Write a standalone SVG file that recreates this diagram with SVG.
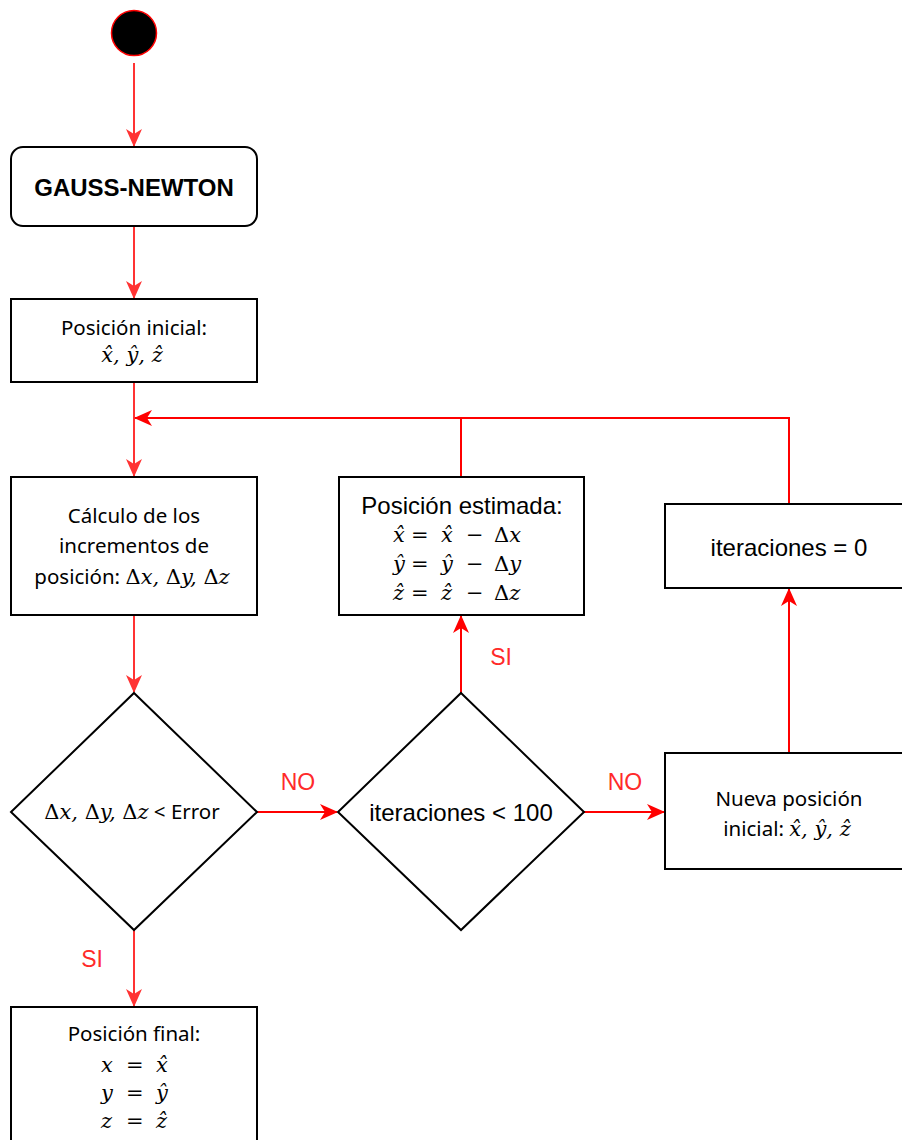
<svg xmlns="http://www.w3.org/2000/svg" width="902" height="1140" viewBox="0 0 902 1140">
<style>
.box{fill:#fff;stroke:#000;stroke-width:2}
.t{font-family:"Noto Sans","Open Sans",sans-serif;font-size:20.5px;fill:#000;text-anchor:middle}
.h{font-family:"Liberation Sans",Arial,sans-serif;font-size:24px;fill:#000;text-anchor:middle}
.m{font-family:"DejaVu Serif","Liberation Serif",serif;font-style:italic;font-size:21px}
.eq{font-family:"DejaVu Serif","Liberation Serif",serif;font-style:italic;font-size:21px;fill:#000}
.up{font-style:normal}
.lbl{font-family:"Liberation Sans",Arial,sans-serif;font-size:23px;fill:#ff2a2a;text-anchor:middle}
.c{fill:none;stroke-width:2}
.r1{stroke:#ff3333}
.r2{stroke:#ff0000}
</style>
<defs>
<marker id="a1" markerUnits="userSpaceOnUse" markerWidth="18" markerHeight="16" viewBox="0 0 18 16" refX="17" refY="8" orient="auto">
<path d="M0,0 L18,8 L0,16 L5,8 z" fill="#ff3333"/>
</marker>
<marker id="a2" markerUnits="userSpaceOnUse" markerWidth="18" markerHeight="16" viewBox="0 0 18 16" refX="17" refY="8" orient="auto">
<path d="M0,0 L18,8 L0,16 L5,8 z" fill="#ff0000"/>
</marker>
</defs>

<g id="connectors">
<line class="c r1" x1="134" y1="63" x2="134" y2="146" marker-end="url(#a1)"/>
<line class="c r1" x1="134" y1="226" x2="134" y2="298" marker-end="url(#a1)"/>
<line class="c r1" x1="134" y1="382" x2="134" y2="476" marker-end="url(#a1)"/>
<polyline class="c r2" points="789,504 789,418 135,418" marker-end="url(#a2)"/>
<line class="c r2" x1="461" y1="477" x2="461" y2="418"/>
<line class="c r1" x1="134" y1="615" x2="134" y2="692" marker-end="url(#a1)"/>
<line class="c r2" x1="257" y1="812" x2="337" y2="812" marker-end="url(#a2)"/>
<line class="c r2" x1="584" y1="812" x2="664" y2="812" marker-end="url(#a2)"/>
<line class="c r2" x1="461" y1="693" x2="461" y2="616" marker-end="url(#a2)"/>
<line class="c r2" x1="789" y1="753" x2="789" y2="589" marker-end="url(#a2)"/>
<line class="c r1" x1="134" y1="930" x2="134" y2="1006" marker-end="url(#a1)"/>
<text class="lbl" x="298" y="790">NO</text>
<text class="lbl" x="625" y="790">NO</text>
<text class="lbl" x="501" y="665">SI</text>
<text class="lbl" x="92" y="967">SI</text>
</g>

<g id="start">
<circle cx="134" cy="33" r="22.5" fill="#000" stroke="#ff0000" stroke-width="1.5"/>
</g>

<g id="gauss-newton">
<rect class="box" x="11" y="147" width="246" height="79" rx="12"/>
<text class="h" x="134" y="196" font-weight="bold" font-size="23">GAUSS-NEWTON</text>
</g>

<g id="posicion-inicial">
<rect class="box" x="11" y="299" width="246" height="83"/>
<text class="t" x="134" y="335">Posición inicial:</text>
<text class="t m" x="132" y="362">x̂, ŷ, ẑ</text>
</g>

<g id="calculo">
<rect class="box" x="11" y="477" width="246" height="138"/>
<text class="t" x="134" y="523">Cálculo de los</text>
<text class="t" x="134" y="553">incrementos de</text>
<text class="t" x="132" y="584">posición: <tspan class="m"><tspan class="up">Δ</tspan>x, <tspan class="up">Δ</tspan>y, <tspan class="up">Δ</tspan>z</tspan></text>
</g>

<g id="decision-error">
<polygon class="box" points="134,693 257,812 134,930 11,812"/>
<text class="t" x="132" y="819"><tspan class="m"><tspan class="up">Δ</tspan>x, <tspan class="up">Δ</tspan>y, <tspan class="up">Δ</tspan>z</tspan> &lt;  Error</text>
</g>

<g id="decision-iter">
<polygon class="box" points="461,693 584,812 461,930 338,812"/>
<text class="h" x="461" y="821">iteraciones &lt; 100</text>
</g>

<g id="posicion-estimada">
<rect class="box" x="339" y="477" width="245" height="138"/>
<text class="h" x="462" y="514">Posición estimada:</text>
<text class="eq" y="542"><tspan x="393">x̂</tspan><tspan x="411" class="up">=</tspan><tspan x="441">x̂</tspan><tspan x="466" class="up">−</tspan><tspan x="494" class="up">Δ</tspan><tspan>x</tspan></text>
<text class="eq" y="571"><tspan x="393">ŷ</tspan><tspan x="411" class="up">=</tspan><tspan x="441">ŷ</tspan><tspan x="466" class="up">−</tspan><tspan x="494" class="up">Δ</tspan><tspan>y</tspan></text>
<text class="eq" y="600"><tspan x="393">ẑ</tspan><tspan x="411" class="up">=</tspan><tspan x="441">ẑ</tspan><tspan x="466" class="up">−</tspan><tspan x="494" class="up">Δ</tspan><tspan>z</tspan></text>
</g>

<g id="iteraciones-cero">
<rect class="box" x="665" y="504" width="250" height="84"/>
<text class="h" x="789" y="556">iteraciones = 0</text>
</g>

<g id="nueva-posicion">
<rect class="box" x="665" y="753" width="250" height="116"/>
<text class="t" x="789" y="806">Nueva posición</text>
<text class="t" x="787" y="836">inicial: <tspan class="m">x̂, ŷ, ẑ</tspan></text>
</g>

<g id="posicion-final">
<rect class="box" x="11" y="1007" width="246" height="140"/>
<text class="t" x="134" y="1041">Posición final:</text>
<text class="eq" y="1072"><tspan x="101">x</tspan><tspan x="126" class="up">=</tspan><tspan x="156">x̂</tspan></text>
<text class="eq" y="1100"><tspan x="101">y</tspan><tspan x="126" class="up">=</tspan><tspan x="156">ŷ</tspan></text>
<text class="eq" y="1128"><tspan x="101">z</tspan><tspan x="126" class="up">=</tspan><tspan x="156">ẑ</tspan></text>
</g>
</svg>
